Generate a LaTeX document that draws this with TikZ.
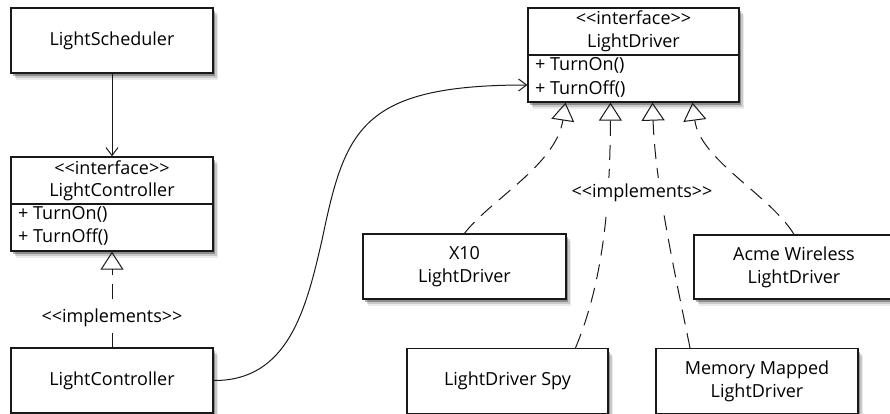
\documentclass[tikz,border=0pt]{standalone}
\usepackage{fontspec}
\newfontfamily\umlfont{Open Sans}
\usetikzlibrary{arrows.meta,shadows}
\begin{document}
\begin{tikzpicture}[x=1pt,y=-1pt,
  every node/.style={font=\umlfont\fontsize{18}{23}\selectfont, text=black},
  shadowed/.style={
    drop shadow={shadow xshift=5pt,shadow yshift=-7pt,opacity=.08,fill=black},
    drop shadow={shadow xshift=3.5pt,shadow yshift=-5pt,opacity=.15,fill=black},
    drop shadow={shadow xshift=2pt,shadow yshift=-3pt,opacity=.3,fill=black}},
  box/.style={draw=black!90, line width=1.3pt, fill=white, minimum width=202pt,
    minimum height=65pt, inner sep=0pt, align=center, shadowed},
  txt/.style={inner sep=0pt, text height=12pt, text depth=3pt},
  divider/.style={draw=black!90, line width=1.3pt},
  lbl/.style={fill=white, inner xsep=2pt, inner ysep=6pt},
  assoc/.style={draw=black!90, line width=1pt, -{Straight Barb[length=8pt,width=12pt]}},
  realize/.style={draw=black!90, line width=1pt, dash pattern=on 15pt off 9pt,
    -{Triangle[open,length=18pt,width=23pt,line width=1pt]}}]
\useasboundingbox (0,0) rectangle (890,414);

% left column
\node[box] (sched) at (112,40.5) {LightScheduler};
\node[box, minimum height=94pt] (ctrlI) at (112,204) {};
\draw[divider] (ctrlI.west) -- (ctrlI.east);
\node[txt] (ctrlIst) at (112,169.5) {<<interface>>};
\node[txt] (ctrlIname) at (112,191.5) {LightController};
\node[txt, anchor=west] (ctrlIon) at (18,215) {+ TurnOn()};
\node[txt, anchor=west] (ctrlIoff) at (18,238) {+ TurnOff()};
\node[box] (ctrl) at (112,380.5) {LightController};

% right side
\node[box, minimum width=211pt, minimum height=94pt] (ldI) at (633.5,55) {};
\draw[divider] (ldI.west) -- (ldI.east);
\node[txt] (ldIst) at (633.5,20) {<<interface>>};
\node[txt] (ldIname) at (633.5,43) {LightDriver};
\node[txt, anchor=west] (ldIon) at (535,66) {+ TurnOn()};
\node[txt, anchor=west] (ldIoff) at (535,90) {+ TurnOff()};

\node[box, minimum width=203pt] (x10) at (464.5,266.5) {X10\\LightDriver};
\node[box, minimum width=200pt, minimum height=64pt] (acme) at (794,267) {Acme Wireless\\LightDriver};
\node[box, minimum width=201pt] (spy) at (507.5,381) {LightDriver Spy};
\node[box] (mm) at (757,381) {Memory Mapped\\LightDriver};

% connectors
\draw[assoc] (sched) -- (ctrlI);
\draw[realize] (ctrl) -- node[lbl, pos=.31] (implL) {<<implements>>} (ctrlI);
\draw[assoc] (ctrl.east) .. controls (288,381) and (306,310) .. (322,240)
  .. controls (345,130) and (360,85) .. ([yshift=-30pt]ldI.west);

\draw[realize] (x10.north) .. controls (490,200) and (556,165) .. ([xshift=-68pt]ldI.south);
\draw[realize] ([xshift=68pt]spy.north) .. controls (604,280) and (610,200) .. ([xshift=-23pt]ldI.south);
\draw[realize] ([xshift=-67pt]mm.north) .. controls (672,260) and (655,180) .. ([xshift=19pt]ldI.south);
\draw[realize] (acme.north) .. controls (770,195) and (700,160) .. ([xshift=59pt]ldI.south);
\node[lbl] (implR) at (642,193) {<<implements>>};
\end{tikzpicture}
\end{document}
